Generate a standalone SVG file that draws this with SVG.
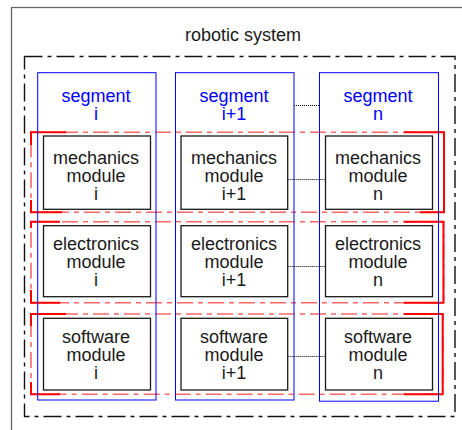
<svg xmlns="http://www.w3.org/2000/svg" width="462" height="430" viewBox="0 0 462 430">
  <style>
    text { font-family: "Liberation Sans", Arial, sans-serif; font-size: 18px; text-anchor: middle; fill: #1a1a1a; }
    .seg-label { fill: #0000ff; }
    .frame { fill: none; stroke: #666666; stroke-width: 1.3; }
    .system { fill: none; stroke: #111111; stroke-width: 1.4; stroke-dasharray: 18 5 4 5; }
    .segment { fill: none; stroke: #0000ff; stroke-width: 1; }
    .layer { fill: none; stroke: #ff0000; stroke-opacity: 0.6; stroke-width: 1.6; stroke-dasharray: 16 5 5 5; }
    .layer-edge { fill: none; stroke: #ff0000; stroke-width: 2; }
    .module { fill: #ffffff; stroke: #1a1a1a; stroke-width: 1.3; }
    .dots { fill: none; stroke: #000000; stroke-width: 1; stroke-dasharray: 1 1; }
  </style>

  <!-- outer frame -->
  <rect class="frame" x="11.5" y="7.5" width="470" height="440"/>

  <g id="robotic-system">
    <rect class="system" x="24.5" y="56.5" width="430.5" height="360"/>
    <text x="243" y="41">robotic system</text>
  </g>

  <!-- layers (mechanics / electronics / software rows) -->
  <g id="layer-mechanics">
    <rect class="layer" x="31" y="132.3" width="413" height="80"/>
    <path class="layer-edge" d="M66 132.3 H31 V145 M31 200 V212.3 H62 M404 132.3 H444 V212.3 H420"/>
  </g>
  <g id="layer-electronics">
    <rect class="layer" x="31" y="221.7" width="412.5" height="81"/>
    <path class="layer-edge" d="M60 221.7 H31 V228 M31 290 V302.7 H60 M404 221.7 H443.5 V302.7 H404"/>
  </g>
  <g id="layer-software">
    <rect class="layer" x="31" y="314" width="411.7" height="80.3"/>
    <path class="layer-edge" d="M66 314 H31 V326 M31 382 V394.3 H60 M404 314 H442.7 V394.3 H404"/>
  </g>

  <!-- segments -->
  <g id="segment-i">
    <rect class="segment" x="37.7" y="72.7" width="118.3" height="327.3"/>
    <text class="seg-label" x="96" y="101.7">segment</text>
    <text class="seg-label" x="96" y="120">i</text>
  </g>
  <g id="segment-i1">
    <rect class="segment" x="175.5" y="72.7" width="118.5" height="327.3"/>
    <text class="seg-label" x="234" y="101.7">segment</text>
    <text class="seg-label" x="234" y="120">i+1</text>
  </g>
  <g id="segment-n">
    <rect class="segment" x="319.5" y="72.7" width="119" height="328.5"/>
    <text class="seg-label" x="378" y="101.7">segment</text>
    <text class="seg-label" x="378" y="120">n</text>
  </g>

  <!-- mechanics modules -->
  <g id="mechanics-i">
    <rect class="module" x="43.5" y="136" width="107" height="73.3"/>
    <text x="96" y="163.5">mechanics</text>
    <text x="96" y="181.5">module</text>
    <text x="96" y="199.5">i</text>
  </g>
  <g id="mechanics-i1">
    <rect class="module" x="181" y="136" width="106.7" height="73.3"/>
    <text x="234" y="163.5">mechanics</text>
    <text x="234" y="181.5">module</text>
    <text x="234" y="199.5">i+1</text>
  </g>
  <g id="mechanics-n">
    <rect class="module" x="325.5" y="136" width="107" height="73.3"/>
    <text x="378" y="163.5">mechanics</text>
    <text x="378" y="181.5">module</text>
    <text x="378" y="199.5">n</text>
  </g>

  <!-- electronics modules -->
  <g id="electronics-i">
    <rect class="module" x="43.5" y="225.7" width="107" height="71"/>
    <text x="96" y="250">electronics</text>
    <text x="96" y="267.5">module</text>
    <text x="96" y="285.5">i</text>
  </g>
  <g id="electronics-i1">
    <rect class="module" x="181" y="225.7" width="106.7" height="71"/>
    <text x="234" y="250">electronics</text>
    <text x="234" y="267.5">module</text>
    <text x="234" y="285.5">i+1</text>
  </g>
  <g id="electronics-n">
    <rect class="module" x="325.5" y="225.7" width="107" height="71"/>
    <text x="378" y="250">electronics</text>
    <text x="378" y="267.5">module</text>
    <text x="378" y="285.5">n</text>
  </g>

  <!-- software modules -->
  <g id="software-i">
    <rect class="module" x="43.5" y="318.3" width="107" height="71.7"/>
    <text x="96" y="342.7">software</text>
    <text x="96" y="360.5">module</text>
    <text x="96" y="378.7">i</text>
  </g>
  <g id="software-i1">
    <rect class="module" x="181" y="318.3" width="106.7" height="71.7"/>
    <text x="234" y="342.7">software</text>
    <text x="234" y="360.5">module</text>
    <text x="234" y="378.7">i+1</text>
  </g>
  <g id="software-n">
    <rect class="module" x="325.5" y="318.3" width="107" height="71.7"/>
    <text x="378" y="342.7">software</text>
    <text x="378" y="360.5">module</text>
    <text x="378" y="378.7">n</text>
  </g>

  <!-- dotted links between column i+1 and column n -->
  <g id="connectors">
    <line class="dots" x1="294" y1="105.5" x2="319.5" y2="105.5"/>
    <line class="dots" x1="287.7" y1="179.5" x2="325.5" y2="179.5"/>
    <line class="dots" x1="287.7" y1="266.5" x2="325.5" y2="266.5"/>
    <line class="dots" x1="287.7" y1="356.5" x2="325.5" y2="356.5"/>
  </g>
</svg>
